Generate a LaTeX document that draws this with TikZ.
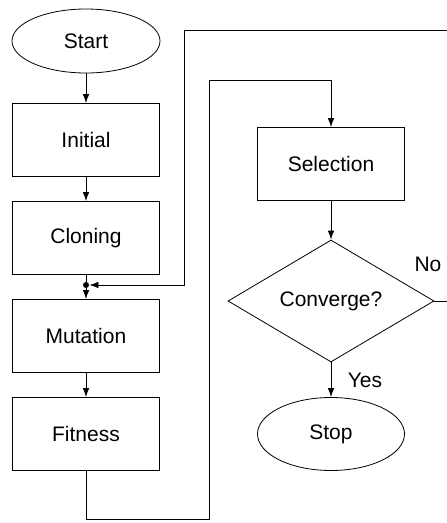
\documentclass[tikz,border=0pt]{standalone}
\usepackage{fontspec}
\setmainfont{Liberation Sans}
\usepackage{tikz}
\usetikzlibrary{arrows.meta,shapes.geometric}

\begin{document}
\begin{tikzpicture}[x=1pt,y=-1pt,line width=0.8pt,
  font=\fontsize{21}{25}\selectfont,
  box/.style={draw,rectangle,inner sep=0pt,minimum width=147pt,minimum height=73pt},
  term/.style={draw,ellipse,inner sep=0pt,minimum width=148pt,minimum height=64pt},
  cond/.style={draw,diamond,inner sep=0pt,minimum width=206pt,minimum height=122pt},
  arr/.style={-{Latex[length=9pt,width=6.5pt]}}]

\clip (0,0) rectangle (447,523);

\node[term] (start) at (86,41){Start};
\node[box] (initial) at (86,140){Initial};
\node[box] (cloning) at (86,238){Cloning};
\node[circle,fill,inner sep=0pt,minimum size=6pt] (jn) at (86,285){};
\node[box] (mutation) at (86,336){Mutation};
\node[box] (fitness) at (86,434){Fitness};
\node[box] (selection) at (331,164){Selection};
\node[cond] (conv) at (331,301){Converge?};
\node[term,minimum width=147pt,minimum height=73pt] (stop) at (331,434){Stop};
\node (yes) at (365,380){Yes};
\node (no) at (428,264){No};

\coordinate (low) at (209,519);
\coordinate (high) at (209,80);
\coordinate (far) at (470,30);
\coordinate (back) at (184,30);

\draw[arr] (start) -- (initial);
\draw[arr] (initial) -- (cloning);
\draw (cloning) -- (jn);
\draw[arr] (jn) -- (mutation);
\draw[arr] (mutation) -- (fitness);
\draw[arr] (fitness) |- (low) -- (high) -| (selection);
\draw[arr] (selection) -- (conv);
\draw[arr] (conv) -- (stop);
\draw[arr] (conv.east) -| (far) -- (back) |- (jn);

\end{tikzpicture}
\end{document}
